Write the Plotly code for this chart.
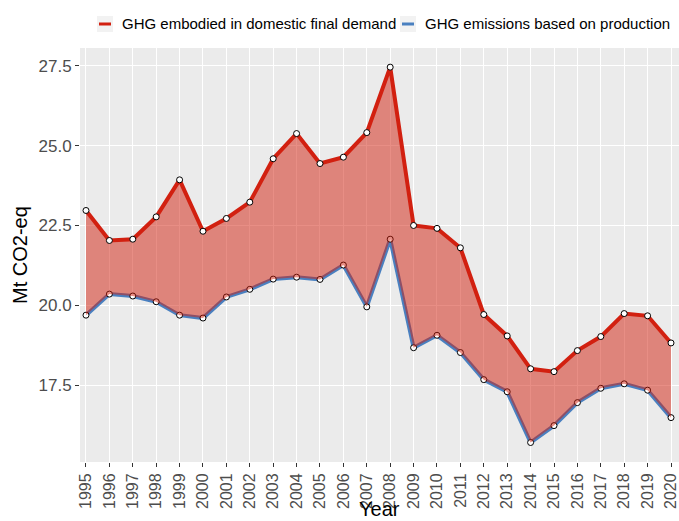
import plotly.graph_objects as go

years = list(range(1995, 2021))
demand = [22.97, 22.03, 22.07, 22.77, 23.93, 22.32, 22.72, 23.23, 24.59, 25.38,
          24.44, 24.64, 25.41, 27.46, 22.50, 22.41, 21.80, 19.71, 19.04, 18.01,
          17.92, 18.58, 19.02, 19.74, 19.67, 18.82]
production = [19.69, 20.35, 20.29, 20.11, 19.69, 19.60, 20.26, 20.50, 20.82, 20.88,
              20.81, 21.26, 19.95, 22.07, 18.67, 19.06, 18.52, 17.67, 17.29, 15.70,
              16.23, 16.95, 17.40, 17.54, 17.34, 16.48]
y_ticks = [17.5, 20.0, 22.5, 25.0, 27.5]
legend_labels = ["GHG embodied in domestic final demand", "GHG emissions based on production"]

RED = "rgb(210,32,16)"
BLUE = "rgb(74,128,192)"
FILL = "rgba(210,30,12,0.5)"
FONT = "Arial, Liberation Sans, sans-serif"

W, H = 679, 521
L, R, T, B = 80, 0, 48, 59
pw, ph = W - L - R, H - T - B

def px(x):
    return (x - L) / pw

def py(y):
    return (H - B - y) / ph

fig = go.Figure()
marker = dict(size=6, color="white", line=dict(color="black", width=1))
fig.add_trace(go.Scatter(x=years, y=production, mode="lines+markers",
                         line=dict(color=BLUE, width=4), marker=marker,
                         showlegend=False, name=legend_labels[1]))
fig.add_trace(go.Scatter(x=years, y=production, mode="lines",
                         line=dict(color=BLUE, width=0), showlegend=False,
                         hoverinfo="skip"))
fig.add_trace(go.Scatter(x=years, y=demand, mode="lines+markers", fill="tonexty",
                         fillcolor=FILL, line=dict(color=RED, width=4), marker=marker,
                         showlegend=False, name=legend_labels[0]))

shapes = []
annotations = []
# custom legend
legend_items = [(97, 113, 120, RED, legend_labels[0]), (400, 416, 423, BLUE, legend_labels[1])]
for x0, x1, xt, col, lab in legend_items:
    shapes.append(dict(type="rect", xref="paper", yref="paper",
                       x0=px(x0), x1=px(x1), y0=py(32), y1=py(16),
                       fillcolor="#F2F2F2", line=dict(width=0), layer="above"))
    shapes.append(dict(type="line", xref="paper", yref="paper",
                       x0=px(x0 + 2), x1=px(x1 - 2), y0=py(24), y1=py(24),
                       line=dict(color=col, width=3), layer="above"))
    annotations.append(dict(text=lab, xref="paper", yref="paper", x=px(xt), y=py(24),
                            xanchor="left", yanchor="middle", showarrow=False,
                            font=dict(family=FONT, size=15, color="black")))

annotations.append(dict(text="Mt CO2-eq", xref="paper", yref="paper", x=px(20), y=0.5,
                        textangle=-90, xanchor="center", yanchor="middle", showarrow=False,
                        font=dict(family=FONT, size=20, color="black")))
annotations.append(dict(text="Year", xref="paper", yref="paper", x=0.5, y=py(496),
                        xanchor="center", yanchor="top", showarrow=False,
                        font=dict(family=FONT, size=20, color="black")))

fig.update_layout(
    width=W, height=H,
    margin=dict(l=L, r=R, t=T, b=B, pad=0, autoexpand=False),
    paper_bgcolor="white", plot_bgcolor="#EBEBEB",
    shapes=shapes, annotations=annotations,
    showlegend=False,
    xaxis=dict(range=[1994.744, 2020.342], tickmode="array", tickvals=years,
               ticktext=[str(y) for y in years], tickangle=-90, automargin=False,
               ticklabeloverflow="allow",
               showgrid=True, gridcolor="white", gridwidth=1, zeroline=False,
               ticks="outside", ticklen=4, tickcolor="#333333", tickwidth=1,
               tickfont=dict(family=FONT, size=16, color="#4D4D4D"),
               showline=False),
    yaxis=dict(range=[15.09, 28.06], tickmode="array", tickvals=y_ticks,
               ticktext=[f"{v:.1f}" for v in y_ticks], automargin=False,
               showgrid=True, gridcolor="white", gridwidth=1, zeroline=False,
               ticks="outside", ticklen=4, tickcolor="#333333", tickwidth=1,
               tickfont=dict(family=FONT, size=17, color="#4D4D4D"),
               showline=False),
)

fig.write_html("out.html", config={"displayModeBar": False},
               post_script="document.body.style.margin='0';document.body.style.overflow='hidden';")
